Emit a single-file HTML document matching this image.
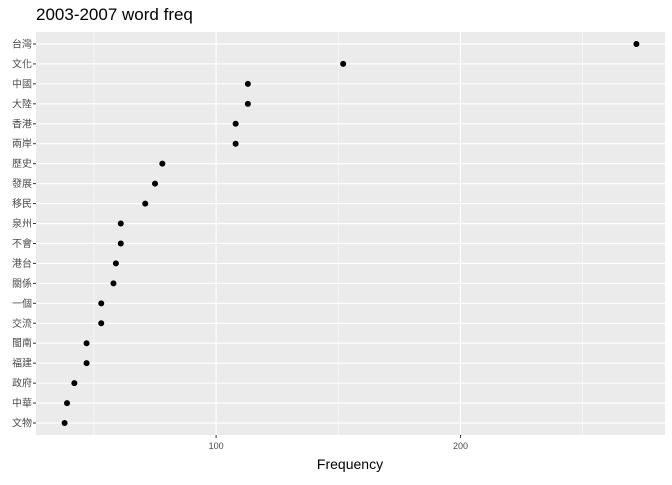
<!DOCTYPE html>
<html><head><meta charset="utf-8"><style>
body{margin:0;background:#fff;}
svg text{font-family:"Liberation Sans","Noto Sans CJK TC",sans-serif;}
</style></head><body>
<svg id="chart" width="672" height="480" xmlns="http://www.w3.org/2000/svg">
<rect width="672" height="480" fill="#fff"/>
<text x="36" y="20" font-size="17" fill="#000">2003-2007 word freq</text>
<rect x="36" y="32" width="629" height="403" fill="#EBEBEB"/>
<g id="grid"></g><g id="marks"></g><g id="axes"></g>
<text x="350" y="469" font-size="14" text-anchor="middle" fill="#000">Frequency</text>
</svg>
<script>
const categories=["台灣","文化","中國","大陸","香港","兩岸","歷史","發展","移民","泉州","不會","港台","關係","一個","交流","閩南","福建","政府","中華","文物"];
const values=[272,152,113,113,108,108,78,75,71,61,61,59,58,53,53,47,47,42,39,38];
const majorTicks=[100,200];
const minorTicks=[50,150,250];
const L=36,R=665,T=32,B=435;
const vmin=Math.min(...values),vmax=Math.max(...values),pad=(vmax-vmin)*0.05;
const x=v=>L+(v-(vmin-pad))/((vmax+pad)-(vmin-pad))*(R-L);
const n=categories.length;
const step=(B-T)/(n+0.2);
const y=i=>T+step*0.6+i*step;
const ns="http://www.w3.org/2000/svg";
function mk(t,a,p){const e=document.createElementNS(ns,t);for(const k in a)e.setAttribute(k,a[k]);p.appendChild(e);return e;}
const g=document.getElementById('grid'),m=document.getElementById('marks'),ax=document.getElementById('axes');
minorTicks.forEach(v=>{const e=mk('line',{x1:x(v),x2:x(v),y1:T,y2:B,stroke:'#fff','stroke-width':0.5},g);

});
majorTicks.forEach(v=>{const e=mk('line',{x1:x(v),x2:x(v),y1:T,y2:B,stroke:'#fff','stroke-width':1.1},g);


const tk=mk('line',{x1:x(v),x2:x(v),y1:B,y2:B+3,stroke:'#333'},ax);


const t=mk('text',{x:x(v),y:B+14,'font-size':9,'text-anchor':'middle',fill:'#4D4D4D'},ax);t.textContent=v;

});
categories.forEach((c,i)=>{const e=mk('line',{x1:L,x2:R,y1:y(i),y2:y(i),stroke:'#fff','stroke-width':1.1},g);


const tk=mk('line',{x1:L-3,x2:L,y1:y(i),y2:y(i),stroke:'#333'},ax);


const t=mk('text',{x:L-4,y:y(i)+3.5,'font-size':10,'text-anchor':'end',fill:'#4D4D4D'},ax);t.textContent=c;


const d=mk('circle',{cx:x(values[i]),cy:y(i),r:3,fill:'#000'},m);

});
</script>
</body></html>
